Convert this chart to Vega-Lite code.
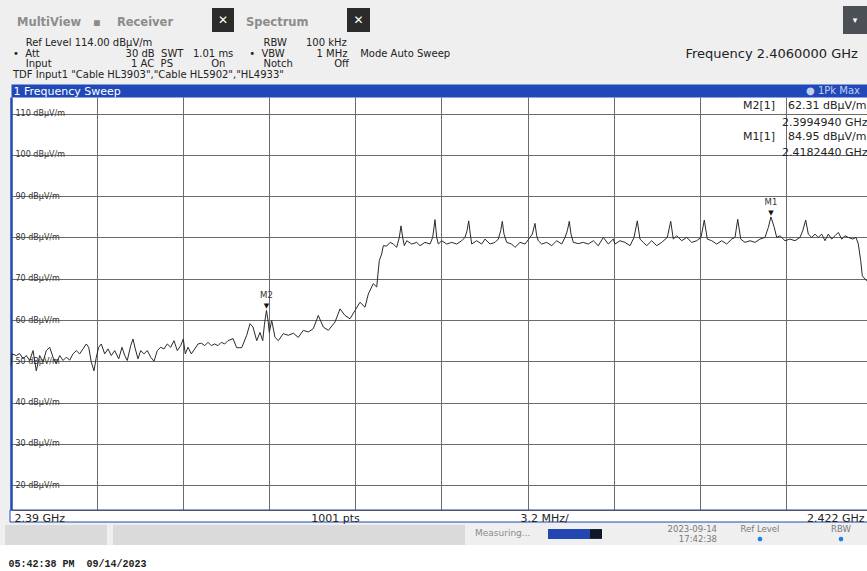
{
 "$schema": "https://vega.github.io/schema/vega-lite/v6.json",
 "width": 856,
 "height": 413,
 "autosize": {"type": "none"},
 "padding": {"left": 11, "top": 97, "right": 0, "bottom": 61},
 "background": "#efefef",
 "title": {
  "text": "\u200b\u00a0MultiView\u00a0\u00a0\u00a0▪\u00a0\u00a0\u00a0\u00a0Receiver",
  "subtitle": [
   "\u200b\u00a0\u00a0\u00a0\u00a0Ref Level 114.00 dBµV/m\u00a0\u00a0\u00a0\u00a0\u00a0\u00a0\u00a0\u00a0\u00a0\u00a0\u00a0\u00a0\u00a0\u00a0\u00a0\u00a0\u00a0\u00a0\u00a0\u00a0\u00a0\u00a0\u00a0\u00a0\u00a0\u00a0\u00a0\u00a0\u00a0\u00a0\u00a0\u00a0\u00a0\u00a0\u00a0RBW\u00a0\u00a0\u00a0\u00a0\u00a0\u00a0100 kHz",
   "•\u00a0\u00a0Att\u00a0\u00a0\u00a0\u00a0\u00a0\u00a0\u00a0\u00a0\u00a0\u00a0\u00a0\u00a0\u00a0\u00a0\u00a0\u00a0\u00a0\u00a0\u00a0\u00a0\u00a0\u00a0\u00a0\u00a0\u00a0\u00a0\u00a030 dB\u00a0\u00a0SWT\u00a0\u00a0\u00a01.01 ms\u00a0\u00a0\u00a0\u00a0\u00a0•\u00a0\u00a0VBW\u00a0\u00a0\u00a0\u00a0\u00a0\u00a0\u00a0\u00a0\u00a0\u00a01 MHz\u00a0\u00a0\u00a0\u00a0Mode Auto Sweep",
   "\u200b\u00a0\u00a0\u00a0\u00a0Input\u00a0\u00a0\u00a0\u00a0\u00a0\u00a0\u00a0\u00a0\u00a0\u00a0\u00a0\u00a0\u00a0\u00a0\u00a0\u00a0\u00a0\u00a0\u00a0\u00a0\u00a0\u00a0\u00a0\u00a0\u00a01 AC\u00a0\u00a0PS\u00a0\u00a0\u00a0\u00a0\u00a0\u00a0\u00a0\u00a0\u00a0\u00a0\u00a0\u00a0On\u00a0\u00a0\u00a0\u00a0\u00a0\u00a0\u00a0\u00a0\u00a0\u00a0\u00a0\u00a0Notch\u00a0\u00a0\u00a0\u00a0\u00a0\u00a0\u00a0\u00a0\u00a0\u00a0\u00a0\u00a0\u00a0Off",
   "TDF Input1 \"Cable HL3903\",\"Cable HL5902\",\"HL4933\""
  ],
  "anchor": "start",
  "frame": "group",
  "dx": 2,
  "offset": -74,
  "font": "DejaVu Sans",
  "fontSize": 11.5,
  "fontWeight": "bold",
  "color": "#8c8c8c",
  "subtitleFont": "DejaVu Sans",
  "subtitleFontSize": 10,
  "subtitleColor": "#222222",
  "subtitlePadding": 9,
  "subtitleLineHeight": 10.7
 },
 "datasets": {
  "trace": [
   {"freq":2.390011,"level":49.0},{"freq":2.390037,"level":51.8},{"freq":2.390197,"level":51.4},{"freq":2.390323,"level":51.9},{"freq":2.390446,"level":50.6},{"freq":2.390569,"level":51.4},{"freq":2.390695,"level":50.2},{"freq":2.390818,"level":52.6},{"freq":2.39094,"level":47.7},{"freq":2.391067,"level":51.4},{"freq":2.391189,"level":49.8},{"freq":2.391312,"level":52.6},{"freq":2.391438,"level":53.4},{"freq":2.391561,"level":51.0},{"freq":2.391684,"level":49.4},{"freq":2.39181,"level":51.4},{"freq":2.391933,"level":50.2},{"freq":2.392055,"level":51.0},{"freq":2.392182,"level":50.3},{"freq":2.392304,"level":51.8},{"freq":2.392427,"level":52.6},{"freq":2.392553,"level":51.8},{"freq":2.392676,"level":53.0},{"freq":2.392799,"level":54.2},{"freq":2.392888,"level":53.4},{"freq":2.392984,"level":49.8},{"freq":2.393085,"level":47.7},{"freq":2.39317,"level":51.0},{"freq":2.393259,"level":53.4},{"freq":2.393356,"level":54.2},{"freq":2.393482,"level":51.8},{"freq":2.393605,"level":53.0},{"freq":2.393728,"level":51.4},{"freq":2.393854,"level":52.6},{"freq":2.394003,"level":50.6},{"freq":2.394125,"level":53.4},{"freq":2.394226,"level":51.4},{"freq":2.394322,"level":50.2},{"freq":2.394449,"level":53.8},{"freq":2.394534,"level":55.4},{"freq":2.39462,"level":53.0},{"freq":2.39472,"level":50.6},{"freq":2.39482,"level":52.6},{"freq":2.394943,"level":51.8},{"freq":2.395066,"level":52.6},{"freq":2.395192,"level":51.0},{"freq":2.395315,"level":50.0},{"freq":2.395437,"level":52.6},{"freq":2.395564,"level":53.4},{"freq":2.395686,"level":53.0},{"freq":2.395809,"level":54.2},{"freq":2.395935,"level":53.4},{"freq":2.396058,"level":55.0},{"freq":2.396181,"level":52.6},{"freq":2.396307,"level":53.8},{"freq":2.396404,"level":55.4},{"freq":2.396478,"level":51.8},{"freq":2.396578,"level":53.4},{"freq":2.396701,"level":51.8},{"freq":2.396827,"level":53.0},{"freq":2.39695,"level":54.2},{"freq":2.397073,"level":54.4},{"freq":2.397199,"level":53.8},{"freq":2.397322,"level":54.6},{"freq":2.397444,"level":53.8},{"freq":2.397571,"level":54.2},{"freq":2.397693,"level":53.8},{"freq":2.397816,"level":54.6},{"freq":2.397942,"level":54.2},{"freq":2.398065,"level":55.0},{"freq":2.398251,"level":55.5},{"freq":2.398388,"level":53.3},{"freq":2.398574,"level":53.3},{"freq":2.39876,"level":56.3},{"freq":2.398883,"level":59.1},{"freq":2.398994,"level":58.3},{"freq":2.399132,"level":55.0},{"freq":2.399254,"level":57.0},{"freq":2.399355,"level":55.0},{"freq":2.399421,"level":59.0},{"freq":2.399494,"level":62.31},{"freq":2.399552,"level":60.0},{"freq":2.3996,"level":57.0},{"freq":2.399689,"level":59.9},{"freq":2.399812,"level":55.8},{"freq":2.399935,"level":55.0},{"freq":2.40012,"level":56.7},{"freq":2.400306,"level":56.3},{"freq":2.400492,"level":56.8},{"freq":2.400678,"level":55.8},{"freq":2.400864,"level":57.5},{"freq":2.40105,"level":57.1},{"freq":2.401235,"level":57.9},{"freq":2.401421,"level":61.1},{"freq":2.401607,"level":58.3},{"freq":2.401793,"level":57.5},{"freq":2.402042,"level":59.5},{"freq":2.402228,"level":62.7},{"freq":2.402413,"level":61.1},{"freq":2.402599,"level":60.3},{"freq":2.402785,"level":62.3},{"freq":2.402971,"level":64.3},{"freq":2.403157,"level":63.1},{"freq":2.40328,"level":66.3},{"freq":2.403465,"level":68.8},{"freq":2.403592,"level":68.0},{"freq":2.403688,"level":74.4},{"freq":2.403778,"level":76.0},{"freq":2.403837,"level":78.0},{"freq":2.403963,"level":77.9},{"freq":2.404086,"level":78.8},{"freq":2.404209,"level":78.4},{"freq":2.404335,"level":77.6},{"freq":2.404432,"level":80.0},{"freq":2.404495,"level":82.8},{"freq":2.404558,"level":80.0},{"freq":2.404618,"level":78.0},{"freq":2.404707,"level":79.2},{"freq":2.404892,"level":78.4},{"freq":2.405078,"level":78.8},{"freq":2.405201,"level":78.0},{"freq":2.405387,"level":78.8},{"freq":2.405573,"level":78.4},{"freq":2.405673,"level":80.0},{"freq":2.405758,"level":84.3},{"freq":2.405821,"level":80.0},{"freq":2.405881,"level":78.4},{"freq":2.406007,"level":79.2},{"freq":2.406193,"level":78.4},{"freq":2.406379,"level":78.8},{"freq":2.406565,"level":78.4},{"freq":2.406751,"level":79.2},{"freq":2.406873,"level":80.0},{"freq":2.406948,"level":81.6},{"freq":2.407011,"level":84.0},{"freq":2.40707,"level":80.8},{"freq":2.407122,"level":78.4},{"freq":2.407308,"level":79.2},{"freq":2.407494,"level":78.4},{"freq":2.407617,"level":79.6},{"freq":2.407803,"level":78.4},{"freq":2.407988,"level":78.8},{"freq":2.408111,"level":79.6},{"freq":2.4082,"level":81.6},{"freq":2.40826,"level":83.9},{"freq":2.408323,"level":80.8},{"freq":2.408423,"level":78.8},{"freq":2.408609,"level":78.4},{"freq":2.408732,"level":77.6},{"freq":2.408918,"level":78.8},{"freq":2.409103,"level":78.4},{"freq":2.409289,"level":80.0},{"freq":2.409375,"level":80.8},{"freq":2.409475,"level":83.4},{"freq":2.409538,"level":80.4},{"freq":2.409597,"level":79.2},{"freq":2.409724,"level":78.4},{"freq":2.40991,"level":78.8},{"freq":2.410096,"level":78.0},{"freq":2.410282,"level":79.2},{"freq":2.410467,"level":78.4},{"freq":2.41059,"level":80.0},{"freq":2.410676,"level":81.6},{"freq":2.41075,"level":83.9},{"freq":2.410813,"level":80.8},{"freq":2.410899,"level":78.8},{"freq":2.411084,"level":78.5},{"freq":2.41127,"level":78.8},{"freq":2.411456,"level":78.4},{"freq":2.411642,"level":79.2},{"freq":2.411828,"level":78.0},{"freq":2.412014,"level":80.0},{"freq":2.412199,"level":78.4},{"freq":2.412385,"level":79.6},{"freq":2.412448,"level":78.4},{"freq":2.412634,"level":79.2},{"freq":2.41282,"level":78.8},{"freq":2.413006,"level":78.0},{"freq":2.413155,"level":80.0},{"freq":2.413277,"level":84.0},{"freq":2.413377,"level":79.6},{"freq":2.4135,"level":78.8},{"freq":2.413626,"level":78.0},{"freq":2.413812,"level":79.2},{"freq":2.413998,"level":78.0},{"freq":2.414184,"level":78.8},{"freq":2.414392,"level":80.0},{"freq":2.414519,"level":83.9},{"freq":2.414615,"level":79.6},{"freq":2.414741,"level":80.4},{"freq":2.414927,"level":79.2},{"freq":2.415113,"level":80.0},{"freq":2.415299,"level":78.8},{"freq":2.415485,"level":79.2},{"freq":2.415645,"level":80.0},{"freq":2.415767,"level":84.2},{"freq":2.415879,"level":79.6},{"freq":2.416042,"level":79.2},{"freq":2.416228,"level":78.4},{"freq":2.416414,"level":79.2},{"freq":2.4166,"level":78.4},{"freq":2.416786,"level":79.6},{"freq":2.416909,"level":80.0},{"freq":2.417009,"level":84.4},{"freq":2.417121,"level":79.6},{"freq":2.41728,"level":78.8},{"freq":2.417466,"level":79.2},{"freq":2.417652,"level":78.8},{"freq":2.417838,"level":79.6},{"freq":2.418023,"level":80.0},{"freq":2.418146,"level":82.4},{"freq":2.418244,"level":84.95},{"freq":2.418369,"level":82.4},{"freq":2.418458,"level":80.0},{"freq":2.418581,"level":80.4},{"freq":2.418767,"level":79.2},{"freq":2.418952,"level":79.6},{"freq":2.419138,"level":79.2},{"freq":2.419324,"level":80.0},{"freq":2.419424,"level":81.6},{"freq":2.419536,"level":84.2},{"freq":2.419633,"level":80.8},{"freq":2.419759,"level":80.0},{"freq":2.419881,"level":80.8},{"freq":2.420004,"level":80.0},{"freq":2.420131,"level":80.8},{"freq":2.420253,"level":79.2},{"freq":2.420376,"level":80.8},{"freq":2.420502,"level":79.6},{"freq":2.420625,"level":80.4},{"freq":2.420748,"level":81.2},{"freq":2.420874,"level":79.6},{"freq":2.420997,"level":80.4},{"freq":2.421119,"level":80.0},{"freq":2.421283,"level":79.6},{"freq":2.421406,"level":80.0},{"freq":2.421491,"level":78.4},{"freq":2.42158,"level":74.4},{"freq":2.42164,"level":70.7},{"freq":2.421703,"level":70.2},{"freq":2.421803,"level":69.5},{"freq":2.421889,"level":69.2},{"freq":2.422,"level":69.0}
  ],
  "markers": [
   {"marker": "M1", "freq": 2.418244, "level": 84.95},
   {"marker": "M2", "freq": 2.399494, "level": 62.31}
  ]
 },
 "layer": [
  {
   "data": {"values": [{}]},
   "mark": {"type": "rect", "color": "white"},
   "encoding": {
    "x": {"datum": 2.3895, "type": "quantitative", "scale": {"domain": [2.39, 2.4218142], "nice": false, "zero": false}, "axis": null},
    "x2": {"datum": 2.4225},
    "y": {"datum": 5.52, "type": "quantitative", "scale": {"domain": [14, 114], "nice": false, "zero": false}, "axis": null},
    "y2": {"datum": -2}
   }
  },
  {
   "data": {"values": [{}]},
   "mark": {"type": "rect", "color": "#dadada"},
   "encoding": {
    "x": {"datum": 2.389777, "type": "quantitative", "axis": null},
    "x2": {"datum": 2.393568},
    "y": {"datum": 10.36, "type": "quantitative", "axis": null},
    "y2": {"datum": 5.52}
   }
  },
  {
   "data": {"values": [{}]},
   "mark": {"type": "rect", "color": "#dadada"},
   "encoding": {
    "x": {"datum": 2.393791, "type": "quantitative", "axis": null},
    "x2": {"datum": 2.406874},
    "y": {"datum": 10.36, "type": "quantitative", "axis": null},
    "y2": {"datum": 5.52}
   }
  },
  {
   "data": {"values": [{}]},
   "mark": {"type": "rect", "fill": "white", "stroke": "#2148b8", "strokeWidth": 1},
   "encoding": {
    "x": {"datum": 2.389963, "type": "quantitative", "axis": null},
    "x2": {"datum": 2.4225},
    "y": {"datum": 14, "type": "quantitative", "axis": null},
    "y2": {"datum": 11.09}
   }
  },
  {
   "data": {"name": "trace"},
   "mark": {"type": "line", "color": "#2a2a2a", "strokeWidth": 1},
   "encoding": {
    "x": {
     "field": "freq", "type": "quantitative",
     "scale": {"domain": [2.39, 2.4218142], "nice": false, "zero": false},
     "axis": {
      "orient": "top",
      "values": [2.3932, 2.3964, 2.3996, 2.4028, 2.406, 2.4092, 2.4124, 2.4156, 2.4188],
      "grid": true, "gridColor": "#6b6b6b", "gridWidth": 1,
      "labels": false, "ticks": false,
      "domain": true, "domainColor": "#2148b8", "domainWidth": 13,
      "offset": 6.5,
      "title": "1 Frequency Sweep",
      "titleColor": "white", "titleFontSize": 11, "titleFontWeight": "normal",
      "titleX": 2, "titleY": 0.5, "titleAlign": "left", "titleBaseline": "middle",
      "zindex": 0
     }
    },
    "y": {
     "field": "level", "type": "quantitative",
     "scale": {"domain": [14, 114], "nice": false, "zero": false},
     "axis": {
      "orient": "left",
      "values": [20, 30, 40, 50, 60, 70, 80, 90, 100, 110],
      "grid": true, "gridColor": "#6b6b6b", "gridWidth": 1,
      "ticks": false,
      "domain": true, "domainColor": "#2148b8", "domainWidth": 2.5,
      "labelAlign": "left", "labelPadding": -4, "labelBaseline": "middle",
      "labelFontSize": 8, "labelColor": "#333333",
      "labelExpr": "datum.value + ' dBµV/m'",
      "labelOverlap": false, "labelBound": false,
      "title": "Frequency  2.4060000 GHz",
      "titleAngle": 0, "titleX": 674, "titleY": -44,
      "titleAlign": "left", "titleBaseline": "middle",
      "titleFontSize": 13, "titleFontWeight": "normal", "titleColor": "#222222",
      "zindex": 0
     }
    }
   }
  },
  {
   "data": {"name": "markers"},
   "mark": {"type": "text", "baseline": "bottom", "dy": -1, "fontSize": 7, "color": "#111111"},
   "encoding": {
    "x": {
     "field": "freq", "type": "quantitative",
     "axis": {
      "orient": "bottom",
      "values": [2.39, 2.402042, 2.40981, 2.4218142],
      "labelExpr": "datum.value < 2.395 ? '2.39 GHz' : datum.value < 2.405 ? '1001 pts' : datum.value < 2.415 ? '3.2 MHz/' : '2.422 GHz'",
      "labelFlush": true, "labelFlushOffset": -3, "labelOverlap": false,
      "grid": false, "ticks": false,
      "domain": true, "domainColor": "#555555",
      "labelPadding": 2, "labelFontSize": 11, "labelColor": "#222222",
      "title": "05:42:38 PM\u00a0\u00a009/14/2023",
      "titleX": -3, "titleY": 53, "titleAlign": "left", "titleBaseline": "middle",
      "titleFont": "Liberation Mono", "titleFontSize": 10, "titleFontWeight": "bold", "titleColor": "#222222",
      "zindex": 1
     }
    },
    "y": {"field": "level", "type": "quantitative", "axis": null},
    "text": {"value": "▼"}
   }
  },
  {
   "data": {"name": "markers"},
   "mark": {"type": "text", "baseline": "bottom", "dy": -10, "fontSize": 8.5, "color": "#333333"},
   "encoding": {
    "x": {"field": "freq", "type": "quantitative", "axis": null},
    "y": {"field": "level", "type": "quantitative", "axis": null},
    "text": {"field": "marker"}
   }
  },
  {
   "data": {"values": [{}]},
   "mark": {"type": "text", "align": "left", "baseline": "middle", "fontSize": 11, "color": "#222222"},
   "encoding": {
    "x": {"datum": 2.417206, "type": "quantitative", "axis": null},
    "y": {"datum": 111.94, "type": "quantitative", "axis": null},
    "text": {"value": "M2[1]"}
   }
  },
  {
   "data": {"values": [{}]},
   "mark": {"type": "text", "align": "left", "baseline": "middle", "fontSize": 11, "color": "#222222"},
   "encoding": {
    "x": {"datum": 2.418878, "type": "quantitative", "axis": null},
    "y": {"datum": 111.94, "type": "quantitative", "axis": null},
    "text": {"value": "62.31 dBµV/m"}
   }
  },
  {
   "data": {"values": [{}]},
   "mark": {"type": "text", "align": "left", "baseline": "middle", "fontSize": 11, "color": "#222222"},
   "encoding": {
    "x": {"datum": 2.418655, "type": "quantitative", "axis": null},
    "y": {"datum": 107.78, "type": "quantitative", "axis": null},
    "text": {"value": "2.3994940 GHz"}
   }
  },
  {
   "data": {"values": [{}]},
   "mark": {"type": "text", "align": "left", "baseline": "middle", "fontSize": 11, "color": "#222222"},
   "encoding": {
    "x": {"datum": 2.417206, "type": "quantitative", "axis": null},
    "y": {"datum": 104.24, "type": "quantitative", "axis": null},
    "text": {"value": "M1[1]"}
   }
  },
  {
   "data": {"values": [{}]},
   "mark": {"type": "text", "align": "left", "baseline": "middle", "fontSize": 11, "color": "#222222"},
   "encoding": {
    "x": {"datum": 2.418878, "type": "quantitative", "axis": null},
    "y": {"datum": 104.24, "type": "quantitative", "axis": null},
    "text": {"value": "84.95 dBµV/m"}
   }
  },
  {
   "data": {"values": [{}]},
   "mark": {"type": "text", "align": "left", "baseline": "middle", "fontSize": 11, "color": "#222222"},
   "encoding": {
    "x": {"datum": 2.418655, "type": "quantitative", "axis": null},
    "y": {"datum": 100.51, "type": "quantitative", "axis": null},
    "text": {"value": "2.4182440 GHz"}
   }
  },
  {
   "data": {"values": [{}]},
   "mark": {"type": "text", "align": "right", "baseline": "middle", "fontSize": 10, "color": "#c3cdf0"},
   "encoding": {
    "x": {"datum": 2.421554, "type": "quantitative", "axis": null},
    "y": {"datum": 115.57, "type": "quantitative", "axis": null},
    "text": {"value": "● 1Pk Max"}
   }
  },
  {
   "data": {"values": [{}]},
   "mark": {"type": "text", "align": "left", "baseline": "middle", "fontSize": 11.5, "fontWeight": "bold", "color": "#8c8c8c"},
   "encoding": {
    "x": {"datum": 2.398734, "type": "quantitative", "axis": null},
    "y": {"datum": 132.0, "type": "quantitative", "axis": null},
    "text": {"value": "Spectrum"}
   }
  },
  {
   "data": {"values": [{}]},
   "mark": {"type": "rect", "color": "#2b2b2b"},
   "encoding": {
    "x": {"datum": 2.39747, "type": "quantitative", "axis": null},
    "x2": {"datum": 2.398288},
    "y": {"datum": 135.55, "type": "quantitative", "axis": null},
    "y2": {"datum": 129.74}
   }
  },
  {
   "data": {"values": [{}]},
   "mark": {"type": "rect", "color": "#2b2b2b"},
   "encoding": {
    "x": {"datum": 2.402488, "type": "quantitative", "axis": null},
    "x2": {"datum": 2.403343},
    "y": {"datum": 135.55, "type": "quantitative", "axis": null},
    "y2": {"datum": 129.74}
   }
  },
  {
   "data": {"values": [{}]},
   "mark": {"type": "text", "align": "center", "baseline": "middle", "fontSize": 12, "fontWeight": "bold", "color": "white"},
   "encoding": {
    "x": {"datum": 2.397879, "type": "quantitative", "axis": null},
    "y": {"datum": 132.6, "type": "quantitative", "axis": null},
    "text": {"value": "✕"}
   }
  },
  {
   "data": {"values": [{}]},
   "mark": {"type": "text", "align": "center", "baseline": "middle", "fontSize": 12, "fontWeight": "bold", "color": "white"},
   "encoding": {
    "x": {"datum": 2.402916, "type": "quantitative", "axis": null},
    "y": {"datum": 132.6, "type": "quantitative", "axis": null},
    "text": {"value": "✕"}
   }
  },
  {
   "data": {"values": [{}]},
   "mark": {"type": "rect", "color": "#4b5057"},
   "encoding": {
    "x": {"datum": 2.420922, "type": "quantitative", "axis": null},
    "x2": {"datum": 2.4225},
    "y": {"datum": 136.03, "type": "quantitative", "axis": null},
    "y2": {"datum": 129.25}
   }
  },
  {
   "data": {"values": [{}]},
   "mark": {"type": "text", "align": "center", "baseline": "middle", "fontSize": 9, "color": "white"},
   "encoding": {
    "x": {"datum": 2.421368, "type": "quantitative", "axis": null},
    "y": {"datum": 132.6, "type": "quantitative", "axis": null},
    "text": {"value": "▾"}
   }
  },
  {
   "data": {"values": [{}]},
   "mark": {"type": "text", "align": "left", "baseline": "middle", "fontSize": 9, "color": "#8a8a8a"},
   "encoding": {
    "x": {"datum": 2.407245, "type": "quantitative", "axis": null},
    "y": {"datum": 8.4, "type": "quantitative", "axis": null},
    "text": {"value": "Measuring..."}
   }
  },
  {
   "data": {"values": [{}]},
   "mark": {"type": "rect", "color": "#2446b0"},
   "encoding": {
    "x": {"datum": 2.409958, "type": "quantitative", "axis": null},
    "x2": {"datum": 2.411519},
    "y": {"datum": 9.39, "type": "quantitative", "axis": null},
    "y2": {"datum": 7.0}
   }
  },
  {
   "data": {"values": [{}]},
   "mark": {"type": "rect", "color": "#101828"},
   "encoding": {
    "x": {"datum": 2.411519, "type": "quantitative", "axis": null},
    "x2": {"datum": 2.411965},
    "y": {"datum": 9.39, "type": "quantitative", "axis": null},
    "y2": {"datum": 7.0}
   }
  },
  {
   "data": {"values": [{}]},
   "mark": {"type": "text", "align": "right", "baseline": "middle", "fontSize": 8.5, "color": "#7a7a7a"},
   "encoding": {
    "x": {"datum": 2.41624, "type": "quantitative", "axis": null},
    "y": {"datum": 9.39, "type": "quantitative", "axis": null},
    "text": {"value": "2023-09-14"}
   }
  },
  {
   "data": {"values": [{}]},
   "mark": {"type": "text", "align": "right", "baseline": "middle", "fontSize": 8.5, "color": "#7a7a7a"},
   "encoding": {
    "x": {"datum": 2.41624, "type": "quantitative", "axis": null},
    "y": {"datum": 6.95, "type": "quantitative", "axis": null},
    "text": {"value": "17:42:38"}
   }
  },
  {
   "data": {"values": [{}]},
   "mark": {"type": "text", "align": "center", "baseline": "middle", "fontSize": 8.5, "color": "#7a7a7a"},
   "encoding": {
    "x": {"datum": 2.417837, "type": "quantitative", "axis": null},
    "y": {"datum": 9.39, "type": "quantitative", "axis": null},
    "text": {"value": "Ref Level"}
   }
  },
  {
   "data": {"values": [{}]},
   "mark": {"type": "text", "align": "center", "baseline": "middle", "fontSize": 8.5, "color": "#7a7a7a"},
   "encoding": {
    "x": {"datum": 2.420848, "type": "quantitative", "axis": null},
    "y": {"datum": 9.39, "type": "quantitative", "axis": null},
    "text": {"value": "RBW"}
   }
  },
  {
   "data": {"values": [{}]},
   "mark": {"type": "point", "shape": "circle", "filled": true, "size": 22, "color": "#1a7fe8", "opacity": 1},
   "encoding": {
    "x": {"datum": 2.417837, "type": "quantitative", "axis": null},
    "y": {"datum": 6.95, "type": "quantitative", "axis": null}
   }
  },
  {
   "data": {"values": [{}]},
   "mark": {"type": "point", "shape": "circle", "filled": true, "size": 22, "color": "#1a7fe8", "opacity": 1},
   "encoding": {
    "x": {"datum": 2.420848, "type": "quantitative", "axis": null},
    "y": {"datum": 6.95, "type": "quantitative", "axis": null}
   }
  }
 ],
 "resolve": {"axis": {"x": "independent", "y": "independent"}},
 "config": {
  "view": {"stroke": null, "fill": "white"},
  "font": "DejaVu Sans",
  "axis": {"labelFont": "DejaVu Sans", "titleFont": "DejaVu Sans"},
  "text": {"font": "DejaVu Sans"}
 }
}
